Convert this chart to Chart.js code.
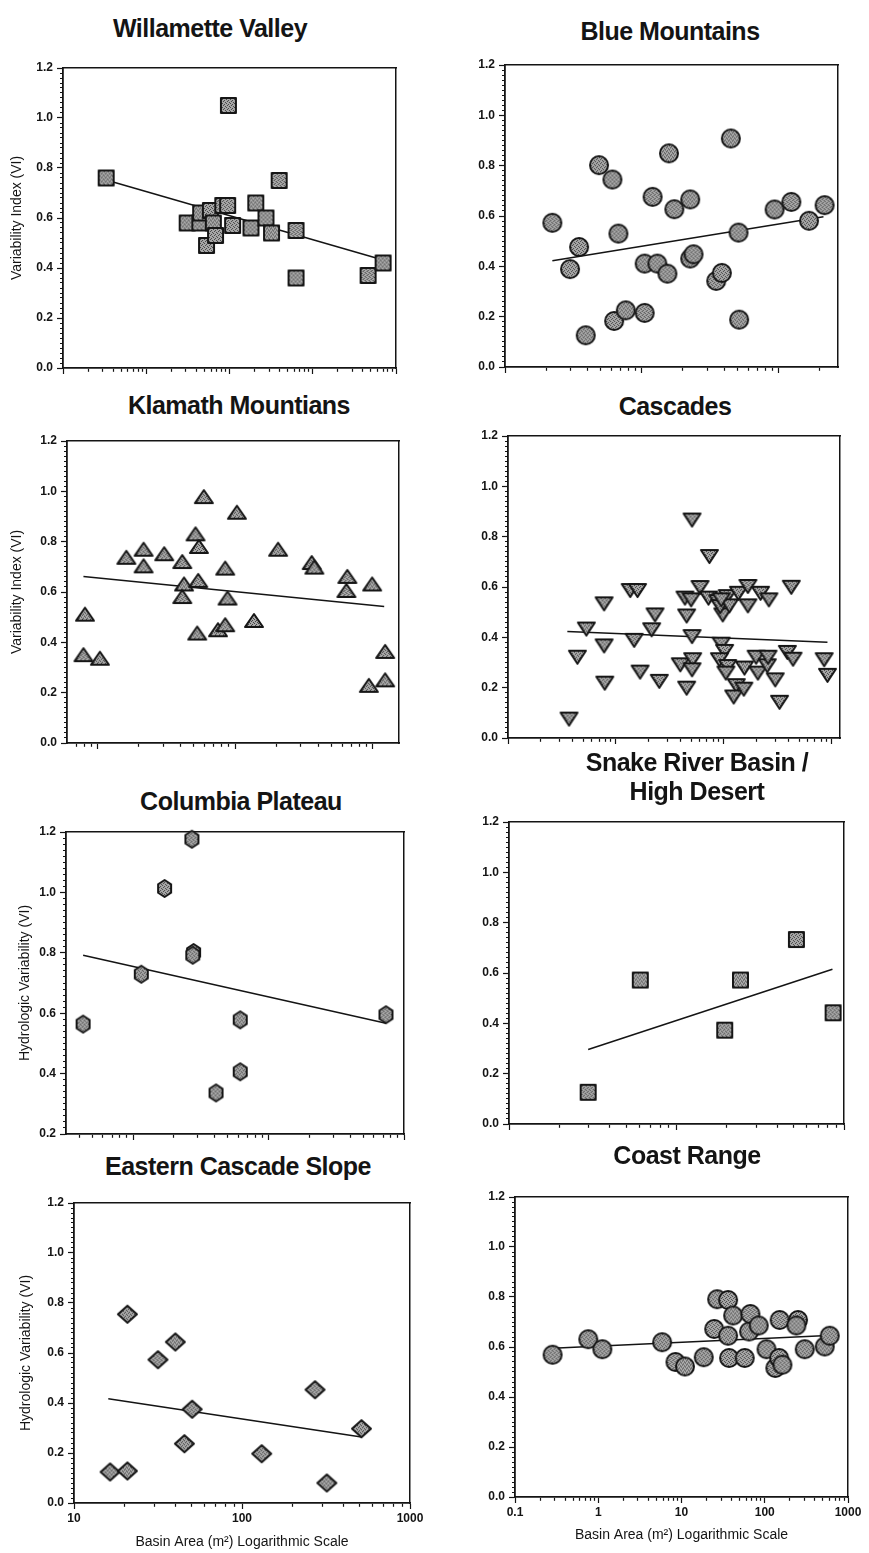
<!DOCTYPE html>
<html lang="en">
<head>
<meta charset="UTF-8">
<title>Variability Index vs Basin Area by Ecoregion</title>
<script src="https://cdn.jsdelivr.net/npm/chart.js"></script>
<style>
  body { margin: 0; background: #fff; }
  #page { position: relative; width: 869px; height: 1553px; overflow: hidden; background: #fff; }
  #page canvas { position: absolute; }
  .panel-title {
    position: absolute;
    width: 400px;
    text-align: center;
    font: bold 25px 'Liberation Sans', Arial, sans-serif;
    letter-spacing: -0.5px;
    line-height: 29px;
    color: #141414;
    white-space: nowrap;
  }
</style>
</head>
<body>
<div id="page"></div>
<script>
// ---- data (basin area on a log scale, VI on a linear scale) ----
const viLabels = ['0.0', '0.2', '0.4', '0.6', '0.8', '1.0', '1.2'];
const easternAreaLabels = ['10', '100', '1000'];
const coastAreaLabels = ['0.1', '1', '10', '100', '1000'];

const willametteArea = [0.33, 9.7, 39.5, 3.1, 4.4, 4.5, 5.9, 5.3, 6.4, 6.8, 8.3, 9.5, 10.9, 18.1, 20.7, 27.4, 32, 63, 63, 462, 700];
const willametteVI   = [0.76, 1.05, 0.75, 0.58, 0.58, 0.62, 0.63, 0.49, 0.58, 0.53, 0.65, 0.65, 0.57, 0.56, 0.66, 0.60, 0.54, 0.55, 0.36, 0.37, 0.42];
const willametteTrendArea = [0.33, 700];
const willametteTrendVI   = [0.752, 0.432];

const blueArea = [2.22, 2.99, 3.48, 3.89, 4.87, 6.1, 6.75, 6.28, 7.64, 10.5, 10.5, 12.0, 13.0, 15.4, 15.8, 17.3, 22.6, 22.6, 23.9, 35, 38.5, 44.8, 51, 51.5, 93.5, 124, 167, 217];
const blueVI   = [0.573, 0.389, 0.477, 0.126, 0.802, 0.745, 0.530, 0.183, 0.225, 0.215, 0.411, 0.676, 0.411, 0.371, 0.849, 0.627, 0.666, 0.431, 0.448, 0.342, 0.374, 0.908, 0.534, 0.188, 0.626, 0.656, 0.581, 0.643];
const blueTrendArea = [2.22, 213];
const blueTrendVI   = [0.422, 0.597];

const klamathArea = [0.81, 0.79, 1.04, 1.62, 2.16, 2.16, 3.05, 4.13, 4.25, 4.13, 5.15, 5.45, 5.39, 5.3, 5.92, 7.5, 8.47, 8.47, 8.8, 10.3, 13.7, 20.5, 36, 37.6, 65.3, 64.3, 98.9, 93.6, 123, 123];
const klamathVI   = [0.512, 0.351, 0.337, 0.738, 0.770, 0.704, 0.752, 0.721, 0.632, 0.582, 0.831, 0.781, 0.646, 0.437, 0.979, 0.450, 0.470, 0.695, 0.576, 0.917, 0.487, 0.770, 0.717, 0.699, 0.662, 0.606, 0.632, 0.229, 0.364, 0.251];
const klamathTrendArea = [0.79, 121];
const klamathTrendVI   = [0.662, 0.542];

const cascadesArea = [3.68, 4.4, 5.33, 7.78, 7.78, 7.9, 13.6, 15.9, 14.8, 16.8, 21.5, 23.1, 25.3, 39.6, 45.4, 45.4, 43.8, 49.9, 50.9, 50.9, 51.6, 50.9, 60.4, 73.8, 72.3, 88.3, 98.2, 93, 108, 94.8, 102, 91.4, 109, 105, 131, 124, 154, 137, 168, 168, 156, 200, 208, 220, 254, 258, 263, 301, 330, 390, 440, 424, 855, 918, 113, 95];
const cascadesVI   = [0.075, 0.321, 0.433, 0.533, 0.366, 0.218, 0.586, 0.586, 0.388, 0.262, 0.430, 0.489, 0.225, 0.291, 0.198, 0.485, 0.556, 0.549, 0.866, 0.403, 0.311, 0.271, 0.598, 0.721, 0.556, 0.542, 0.489, 0.522, 0.562, 0.373, 0.344, 0.311, 0.284, 0.258, 0.208, 0.163, 0.194, 0.575, 0.602, 0.525, 0.278, 0.321, 0.258, 0.575, 0.287, 0.321, 0.549, 0.231, 0.142, 0.340, 0.313, 0.599, 0.311, 0.249, 0.525, 0.549];
const cascadesTrendArea = [3.55, 918];
const cascadesTrendVI   = [0.423, 0.380];

const columbiaArea = [4.28, 11.5, 17.1, 27.2, 28, 27.6, 41, 61.8, 61.8, 736];
const columbiaVI   = [0.564, 0.729, 1.013, 1.176, 0.801, 0.792, 0.336, 0.578, 0.406, 0.595];
const columbiaTrendArea = [4.28, 736];
const columbiaTrendVI   = [0.792, 0.567];

const snakeArea = [29.7, 60.8, 194, 241, 520, 861];
const snakeVI   = [0.126, 0.572, 0.373, 0.572, 0.733, 0.442];
const snakeTrendArea = [29.7, 853];
const snakeTrendVI   = [0.296, 0.615];

const easternArea = [16.4, 20.8, 20.8, 31.6, 40.1, 45.4, 50.5, 131, 272, 320, 514];
const easternVI   = [0.124, 0.128, 0.755, 0.573, 0.644, 0.237, 0.375, 0.197, 0.453, 0.080, 0.297];
const easternTrendArea = [16, 514];
const easternTrendVI   = [0.417, 0.264];

const coastArea = [0.283, 0.759, 1.12, 5.86, 8.47, 11, 18.5, 24.7, 26.8, 36.3, 36.3, 37.3, 41.7, 57.5, 64.9, 67.3, 84.7, 105, 134, 149, 151, 163, 251, 240, 302, 525, 603];
const coastVI   = [0.569, 0.631, 0.591, 0.619, 0.540, 0.522, 0.559, 0.672, 0.791, 0.788, 0.645, 0.556, 0.726, 0.556, 0.662, 0.732, 0.686, 0.591, 0.516, 0.556, 0.708, 0.529, 0.708, 0.686, 0.591, 0.602, 0.645];
const coastTrendArea = [0.283, 575];
const coastTrendVI   = [0.595, 0.646];

// ---- look ----
const ink = '#141414';
Chart.defaults.font.family = "'Liberation Sans', Arial, Helvetica, sans-serif";
Chart.defaults.color = ink;
const tickFont = { size: 12, weight: 'bold' };
const axisTitleFont = { size: 14 };

// stippled grey fill like the scanned symbols
function stipple() {
  const c = document.createElement('canvas');
  c.width = c.height = 4;
  const g = c.getContext('2d');
  g.fillStyle = '#a8a8a8';
  g.fillRect(0, 0, 4, 4);
  g.fillStyle = '#444';
  [[0, 0], [2, 1], [1, 2], [3, 3]].forEach(([x, y]) => g.fillRect(x, y, 1, 1));
  return c;
}

function marker(shape, w, h) {
  const c = document.createElement('canvas');
  c.width = w + 6;
  c.height = h + 6;
  const g = c.getContext('2d');
  const cx = c.width / 2, cy = c.height / 2, rx = w / 2, ry = h / 2;
  g.beginPath();
  if (shape === 'square') {
    g.rect(cx - rx, cy - ry, w, h);
  } else if (shape === 'circle') {
    g.ellipse(cx, cy, rx, ry, 0, 0, Math.PI * 2);
  } else if (shape === 'triangle') {
    g.moveTo(cx, cy - ry); g.lineTo(cx + rx, cy + ry); g.lineTo(cx - rx, cy + ry);
  } else if (shape === 'triangleDown') {
    g.moveTo(cx - rx, cy - ry); g.lineTo(cx + rx, cy - ry); g.lineTo(cx, cy + ry);
  } else if (shape === 'diamond') {
    g.moveTo(cx, cy - ry); g.lineTo(cx + rx, cy); g.lineTo(cx, cy + ry); g.lineTo(cx - rx, cy);
  } else if (shape === 'hexagon') {
    for (let k = 0; k < 6; k++) {
      const a = Math.PI / 3 * k;
      g.lineTo(cx + rx * Math.sin(a), cy - ry * Math.cos(a));
    }
  }
  g.closePath();
  g.fillStyle = g.createPattern(stipple(), 'repeat');
  g.fill();
  g.lineWidth = 2;
  g.lineJoin = 'round';
  g.strokeStyle = '#161616';
  g.stroke();
  return c;
}

function isDecade(v) {
  const e = Math.log10(v);
  return Math.abs(e - Math.round(e)) < 1e-6;
}

// 1..9 x 10^k tick marks inside the axis range
function logTicks(min, max) {
  const out = [];
  for (let e = Math.floor(Math.log10(min)); e <= Math.ceil(Math.log10(max)); e++) {
    for (let d = 1; d <= 9; d++) {
      const v = d * Math.pow(10, e);
      if (v >= min * 0.999 && v <= max * 1.001) out.push({ value: v });
    }
  }
  return out;
}

// box = canvas [left, top, width, height], ca = plot frame [left, top, right, bottom]
const panels = [
  { title: ['Willamette Valley'], tx: 210, ty: 28, box: [0, 50, 435, 340], ca: [63, 68, 396, 368], yw: 54, xh: 8,
    xMin: 0.1, xMax: 1000, yMin: 0, yTitle: 'Variability Index (VI)',
    area: willametteArea, vi: willametteVI, trendArea: willametteTrendArea, trendVI: willametteTrendVI, sym: ['square', 15, 15] },
  { title: ['Blue Mountains'], tx: 670, ty: 31, box: [435, 50, 434, 340], ca: [505, 65, 838, 367], yw: 40, xh: 8,
    xMin: 1, xMax: 272, yMin: 0,
    area: blueArea, vi: blueVI, trendArea: blueTrendArea, trendVI: blueTrendVI, sym: ['circle', 18, 18] },
  { title: ['Klamath Mountians'], tx: 239, ty: 405, box: [0, 425, 435, 335], ca: [67, 441, 399, 743], yw: 58, xh: 8,
    xMin: 0.63, xMax: 155, yMin: 0, yTitle: 'Variability Index (VI)',
    area: klamathArea, vi: klamathVI, trendArea: klamathTrendArea, trendVI: klamathTrendVI, sym: ['triangle', 18, 13] },
  { title: ['Cascades'], tx: 675, ty: 406, box: [435, 420, 434, 340], ca: [508, 436, 840, 738], yw: 40, xh: 8,
    xMin: 1, xMax: 1200, yMin: 0,
    area: cascadesArea, vi: cascadesVI, trendArea: cascadesTrendArea, trendVI: cascadesTrendVI, sym: ['triangleDown', 17, 13] },
  { title: ['Columbia Plateau'], tx: 241, ty: 801, box: [0, 815, 435, 335], ca: [66, 832, 404, 1134], yw: 49, xh: 8,
    xMin: 3.2, xMax: 1000, yMin: 0.2, yTitle: 'Hydrologic Variability (VI)',
    area: columbiaArea, vi: columbiaVI, trendArea: columbiaTrendArea, trendVI: columbiaTrendVI, sym: ['hexagon', 15, 17] },
  { title: ['Snake River Basin /', 'High Desert'], tx: 697, ty: 762, box: [435, 805, 434, 340], ca: [509, 822, 844, 1124], yw: 40, xh: 8,
    xMin: 10, xMax: 1000, yMin: 0,
    area: snakeArea, vi: snakeVI, trendArea: snakeTrendArea, trendVI: snakeTrendVI, sym: ['square', 15, 15] },
  { title: ['Eastern Cascade Slope'], tx: 238, ty: 1166, box: [0, 1185, 435, 368], ca: [74, 1203, 410, 1503], yw: 56, xh: 48,
    xMin: 10, xMax: 1000, yMin: 0, yTitle: 'Hydrologic Variability (VI)', xLabels: easternAreaLabels,
    area: easternArea, vi: easternVI, trendArea: easternTrendArea, trendVI: easternTrendVI, sym: ['diamond', 19, 17] },
  { title: ['Coast Range'], tx: 687, ty: 1155, box: [435, 1180, 434, 373], ca: [515, 1197, 848, 1497], yw: 40, xh: 47,
    xMin: 0.1, xMax: 1000, yMin: 0, xLabels: coastAreaLabels,
    area: coastArea, vi: coastVI, trendArea: coastTrendArea, trendVI: coastTrendVI, sym: ['circle', 18, 18] }
];

const page = document.getElementById('page');

panels.forEach(p => {
  const head = document.createElement('div');
  head.className = 'panel-title';
  head.style.left = (p.tx - 200) + 'px';
  head.style.top = (p.ty - 14.5) + 'px';
  head.innerHTML = p.title.join('<br>');
  page.appendChild(head);

  const canvas = document.createElement('canvas');
  canvas.width = p.box[2];
  canvas.height = p.box[3];
  canvas.style.left = p.box[0] + 'px';
  canvas.style.top = p.box[1] + 'px';
  page.appendChild(canvas);

  const padding = {
    left: p.ca[0] - p.box[0] - p.yw,
    top: p.ca[1] - p.box[1],
    right: p.box[0] + p.box[2] - p.ca[2],
    bottom: p.box[1] + p.box[3] - p.ca[3] - p.xh
  };

  new Chart(canvas, {
    type: 'scatter',
    data: {
      datasets: [
        {
          data: p.area.map((a, i) => ({ x: a, y: p.vi[i] })),
          xAxisID: 'x', yAxisID: 'y',
          pointStyle: marker(...p.sym),
          pointRadius: 8,
          pointHoverRadius: 8,
          clip: false
        },
        {
          data: p.trendArea.map((a, i) => ({ x: a, y: p.trendVI[i] })),
          xAxisID: 'x', yAxisID: 'y',
          showLine: true,
          borderColor: ink,
          borderWidth: 1.5,
          pointRadius: 0,
          pointHoverRadius: 0
        }
      ]
    },
    options: {
      responsive: false,
      animation: false,
      events: [],
      layout: { padding },
      plugins: { legend: { display: false }, tooltip: { enabled: false } },
      scales: {
        x: {
          type: 'logarithmic',
          position: 'bottom',
          min: p.xMin,
          max: p.xMax,
          afterBuildTicks: scale => { scale.ticks = logTicks(p.xMin, p.xMax); },
          afterFit: scale => { scale.height = p.xh; },
          ticks: {
            display: !!p.xLabels,
            autoSkip: false,
            maxRotation: 0,
            padding: 2,
            font: tickFont,
            color: ink,
            callback: v => {
              if (!p.xLabels || !isDecade(v)) return '';
              return p.xLabels.find(s => Math.abs(Number(s) - v) < v * 1e-6) || '';
            }
          },
          grid: {
            drawOnChartArea: false,
            tickLength: 6,
            tickWidth: 1.2,
            tickColor: ink,
            // minor ticks: only the 3px next to the axis
            tickBorderDash: c => (c.tick && !isDecade(c.tick.value)) ? [3, 20] : []
          },
          border: { color: ink, width: 1.8 },
          title: {
            display: !!p.xLabels,
            text: 'Basin Area (m\u00B2) Logarithmic Scale',
            font: axisTitleFont,
            color: ink,
            padding: 0
          }
        },
        y: {
          type: 'linear',
          min: p.yMin,
          max: 1.2,
          afterFit: scale => { scale.width = p.yw; },
          ticks: {
            stepSize: 0.02,
            autoSkip: false,
            padding: 4,
            font: tickFont,
            color: ink,
            callback: v => {
              const k = Math.round(v * 50);
              return k % 10 === 0 ? viLabels[k / 10] : '';
            }
          },
          grid: {
            drawOnChartArea: false,
            tickLength: 6,
            tickWidth: 1.2,
            tickColor: ink,
            tickBorderDash: c => (c.tick && Math.round(c.tick.value * 50) % 10 !== 0) ? [0, 3, 3, 20] : []
          },
          border: { color: ink, width: 1.8 },
          title: {
            display: !!p.yTitle,
            text: p.yTitle || '',
            font: axisTitleFont,
            color: ink,
            padding: 0
          }
        },
        // top and right edges of the frame
        x2: {
          type: 'linear', position: 'top',
          afterFit: scale => { scale.height = 0; },
          ticks: { display: false },
          grid: { display: false, drawTicks: false },
          border: { color: ink, width: 1.5 }
        },
        y2: {
          type: 'linear', position: 'right',
          afterFit: scale => { scale.width = 0; },
          ticks: { display: false },
          grid: { display: false, drawTicks: false },
          border: { color: ink, width: 1.5 }
        }
      }
    }
  });
});
</script>
</body>
</html>
